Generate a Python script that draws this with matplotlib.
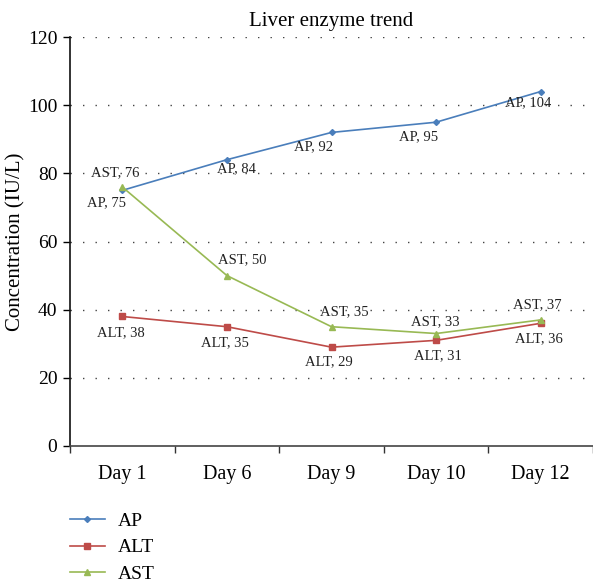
import matplotlib
matplotlib.use("Agg")
import matplotlib.pyplot as plt
import numpy as np

plt.rcParams['font.family'] = ['Liberation Serif', 'DejaVu Serif']

days = ["Day 1", "Day 6", "Day 9", "Day 10", "Day 12"]
ap = [75, 84, 92, 95, 104]
alt = [38, 35, 29, 31, 36]
ast = [76, 50, 35, 33, 37]
yticks = [0, 20, 40, 60, 80, 100, 120]

# label offsets in pixels (style)
ap_off = [(-16, -12), (10, -9), (-18, -14), (-18, -14), (-13, -11)]
alt_off = [(-1, -16), (-2, -16), (-3, -15), (2, -15), (-2, -15)]
ast_off = [(-7, 14), (15, 16), (13, 15), (-1, 12), (-3, 15)]

W, H = 593, 586
fig = plt.figure(figsize=(W/100, H/100), dpi=100)
ax = fig.add_axes([70/W, (H-446)/H, (593-70)/W, (446-37)/H])

x = np.arange(len(days))
c_ap, c_alt, c_ast = '#4A7EBB', '#BE4B48', '#98B954'
l1, = ax.plot(x, ap, color=c_ap, marker='D', ms=3, lw=1.2, label='AP')
l2, = ax.plot(x, alt, color=c_alt, marker='s', ms=5, lw=1.2, label='ALT')
l3, = ax.plot(x, ast, color=c_ast, marker='^', ms=4, lw=1.2, label='AST')

def lab(name, vals, offs):
    for xi, v, (dx, dy) in zip(x, vals, offs):
        ax.annotate(f"{name}, {v}", (xi, v), xytext=(dx, dy), textcoords='offset pixels',
                    ha='center', va='center', fontsize=10.5, color='#222222')

lab('AP', ap, ap_off)
lab('ALT', alt, alt_off)
lab('AST', ast, ast_off)

ax.set_xlim(-0.5, 4.46)
ax.set_ylim(0, 120)
ax.set_yticks(yticks)
ax.set_yticklabels([str(t) for t in yticks], fontsize=14)
ax.set_xticks(x)
ax.set_xticklabels(days, fontsize=14.5)
ax.tick_params(axis='x', length=0, pad=14)
ax.set_xticks(np.arange(-0.5, 4.6, 1), minor=True)
ax.tick_params(axis='x', which='minor', length=5, width=1, color='#333333', direction='out')
ax.tick_params(axis='y', length=5, width=1, direction='out', pad=4)

for t in yticks[1:]:
    ax.axhline(t, color='#444444', lw=1, ls=(0, (1, 8)), zorder=0)

for s in ['top', 'right']:
    ax.spines[s].set_visible(False)
ax.spines['left'].set_color('#111111')
ax.spines['bottom'].set_color('#444444')
ax.spines['left'].set_linewidth(1.2)
ax.spines['bottom'].set_linewidth(1.2)

ax.set_title("Liver enzyme trend", fontsize=15, pad=8)
ax.set_ylabel("Concentration (IU/L)", fontsize=15)
ax.yaxis.set_label_coords(-0.086, 0.5)

fig.legend(handles=[l1, l2, l3], loc='upper left', bbox_to_anchor=(52/W, 1 - 495/H),
           frameon=False, fontsize=14, handlelength=1.8, labelspacing=0.45, handletextpad=0.7)

fig.savefig("out.png", dpi=100)
